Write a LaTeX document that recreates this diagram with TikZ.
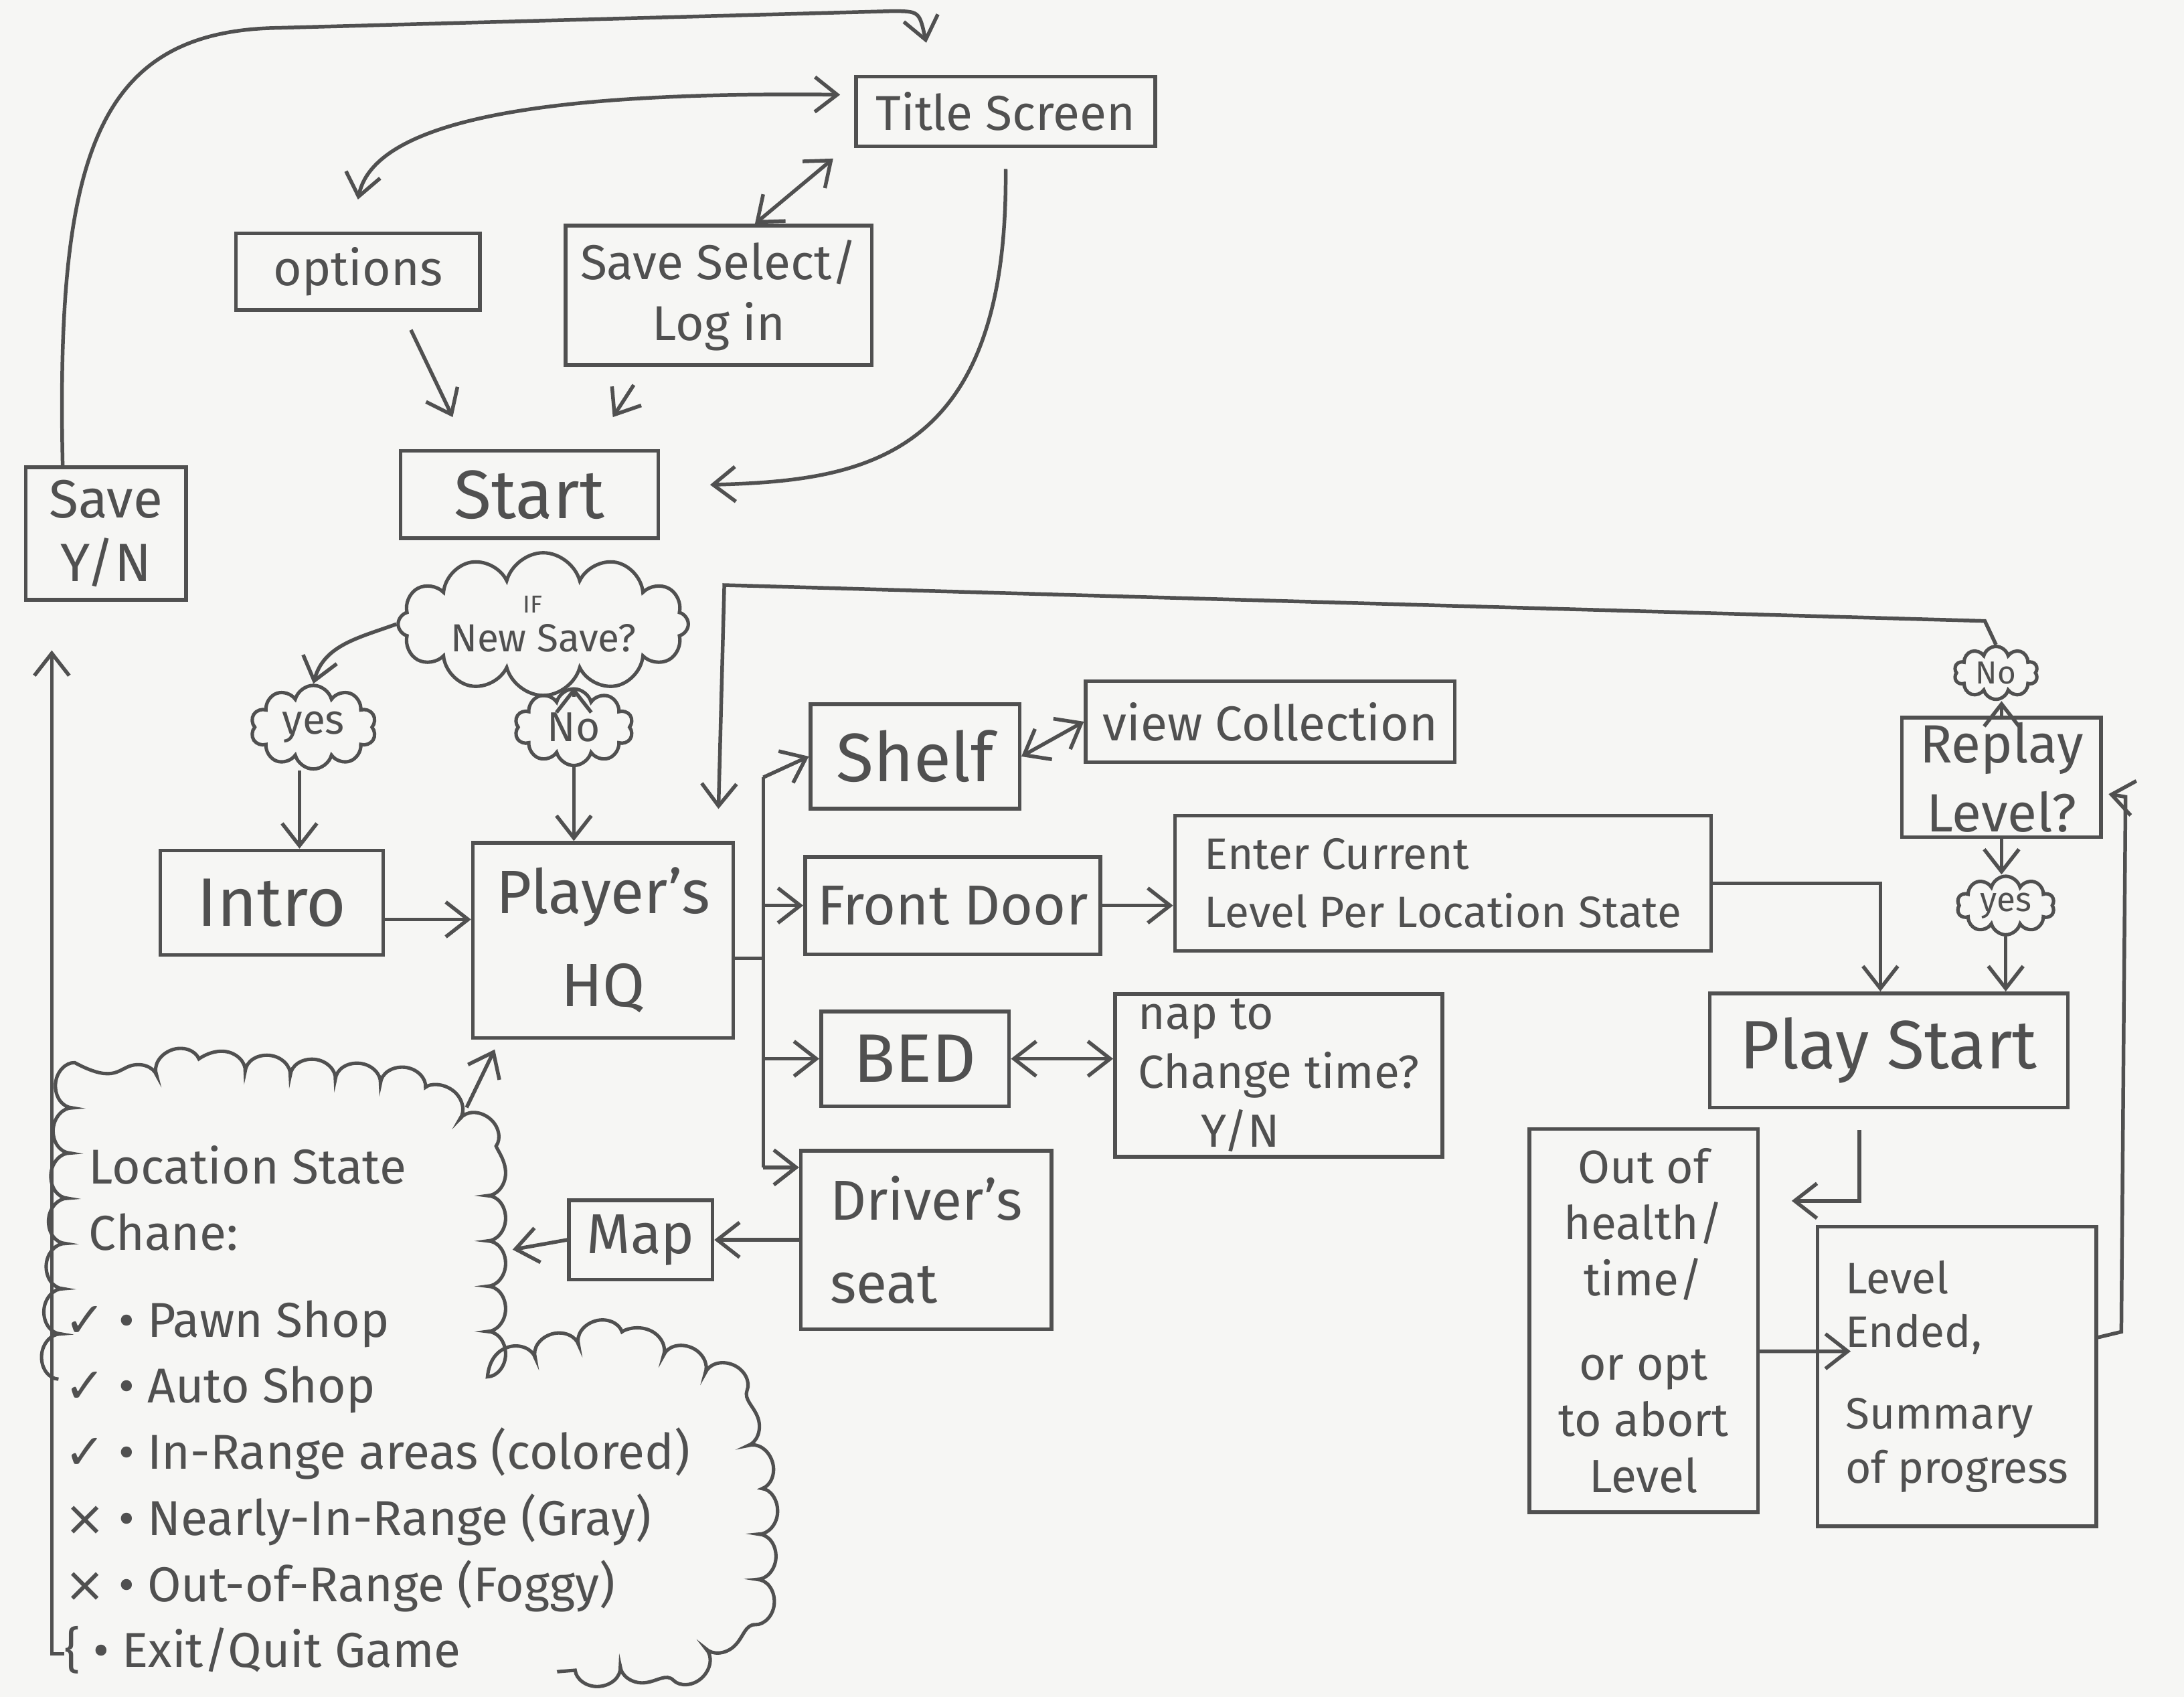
\documentclass[tikz,border=0pt]{standalone}
\usepackage{fontspec}
\setmainfont{Fira Sans}
\newfontfamily\symf{DejaVu Sans}
\usetikzlibrary{arrows.meta,shapes.symbols,decorations.pathmorphing}

\definecolor{paper}{RGB}{246,246,244}
\definecolor{pencil}{RGB}{80,80,80}

\tikzset{
  box/.style={draw=pencil, line width=1.5pt, text=pencil, align=center, inner sep=2pt,
    font=\fontsize{20}{25}\selectfont},
  bigbox/.style={box, font=\fontsize{28}{32}\selectfont},
  puff/.style={cloud, cloud puffs=10, cloud ignores aspect, draw=pencil, line width=1.4pt,
    text=pencil, align=center, inner sep=0pt, font=\fontsize{17}{20}\selectfont},
  link/.style={draw=pencil, line width=1.5pt},
  >={Straight Barb[length=3.2mm,width=5mm]}
}

\begin{document}
\begin{tikzpicture}[x=0.2mm,y=-0.2mm]
\fill[paper] (0,0) rectangle (1568,1218);
\useasboundingbox (0,0) rectangle (1568,1218);

\node[box, minimum width=43mm, minimum height=10mm] (title) at (722,80) {Title Screen};
\node[box, minimum width=35mm, minimum height=11mm] (options) at (257,195) {options};
\node[box, minimum width=44mm, minimum height=20mm] (savesel) at (516,212) {Save Select/\\Log in};
\node[bigbox, minimum width=37mm, minimum height=12.5mm] (start) at (380,355) {Start};
\node[box, font=\fontsize{22}{26}\selectfont, minimum width=23mm, minimum height=19mm] (saveyn) at (76,383) {Save\\Y/N};

\node[puff, cloud puffs=12, font=\fontsize{16}{19}\selectfont, inner xsep=1mm, inner ysep=0.5mm,
  minimum width=38mm, minimum height=12.6mm] (ifnew) at (390,448)
  {\hspace*{-3mm}{\fontsize{10}{10}\selectfont IF}\\[-3pt]New Save?};
\node[puff, minimum width=18mm, minimum height=12mm] (yes) at (225,522) {yes};
\node[puff, minimum width=17mm, minimum height=11mm] (no) at (412,522) {No};

\node[bigbox, minimum width=32mm, minimum height=15mm] (intro) at (195,648) {Intro};
\node[box, font=\fontsize{25}{38}\selectfont, minimum width=37.4mm, minimum height=28mm] (hq) at (433,675) {Player's\\HQ};

\node[bigbox, minimum width=30mm, minimum height=15mm] (shelf) at (657,543) {Shelf};
\node[box, minimum width=53mm, minimum height=11.6mm] (viewcol) at (912,518) {view Collection};
\node[box, font=\fontsize{23}{28}\selectfont, minimum width=42.4mm, minimum height=14mm] (frontdoor) at (684,650) {Front Door};
\node[box, align=left, font=\fontsize{18}{24}\selectfont, minimum width=77mm, minimum height=19.4mm] (enter) at (1036,634) {Enter Current\\Level Per Location State};
\node[bigbox, minimum width=27mm, minimum height=13.6mm] (bed) at (657,760) {BED};
\node[box, align=left, font=\fontsize{19}{24}\selectfont, minimum width=47mm, minimum height=22.6mm] (nap) at (918,772) {nap to\\Change time?\\\hspace*{9mm}Y/N};
\node[box, align=left, font=\fontsize{23}{34}\selectfont, minimum width=36mm, minimum height=25.6mm] (drivers) at (665,890) {Driver's\\seat};
\node[box, font=\fontsize{23}{28}\selectfont, minimum width=20.6mm, minimum height=11.4mm] (map) at (460,890) {Map};

\node[box, font=\fontsize{22}{28}\selectfont, minimum width=28.6mm, minimum height=17mm] (replay) at (1437,558) {Replay\\Level?};
\node[puff, font=\fontsize{13}{15}\selectfont, minimum width=12mm, minimum height=7.6mm] (norr) at (1433,483) {No};
\node[puff, font=\fontsize{14}{16}\selectfont, minimum width=14mm, minimum height=8.4mm] (yesr) at (1440,650) {yes};
\node[bigbox, minimum width=51.4mm, minimum height=16.4mm] (play) at (1356,754) {Play Start};
\node[box, font=\fontsize{19}{23}\selectfont, minimum width=32.8mm, minimum height=55mm] (outof) at (1180,948) {Out of\\health/\\time/\\[4mm]or opt\\to abort\\Level};
\node[box, align=left, font=\fontsize{18}{22}\selectfont, minimum width=40mm, minimum height=43mm] (ended) at (1405,988) {Level\\Ended,\\[4mm]Summary\\of progress};

\node[text=pencil, align=left, anchor=north west, inner sep=0pt, font=\fontsize{20}{27}\selectfont] (locstate) at (46,822)
  {\hspace*{3.5mm}Location State\\
   \hspace*{3.5mm}Chane:\\[3mm]
   {\symf ✓} • Pawn Shop\\
   {\symf ✓} • Auto Shop\\
   {\symf ✓} • In-Range areas (colored)\\
   {\symf ×} • Nearly-In-Range (Gray)\\
   {\symf ×} • Out-of-Range (Foggy)\\
   \{ • Exit/Quit Game};
\draw[pencil, line width=1.4pt, decorate, decoration={bumps, segment length=13mm, amplitude=2.6mm}]
  (42,990) -- (52,795) -- (130,765) -- (300,780) -- (350,818) -- (350,985)
  -- (440,958) -- (522,992) -- (546,1065) -- (543,1148) -- (498,1192) -- (400,1200);
\coordinate (cloudtop) at (335,795);
\coordinate (cloudin) at (368,897);
\coordinate (exitq) at ([yshift=3mm]locstate.south west);
\coordinate (split) at (548,688);
\coordinate (spt) at (548,558);
\coordinate (spb) at (548,838);

\draw[link,->] ([xshift=-6.2mm]saveyn.north) .. controls (40,110) and (70,22) .. (200,20) -- (640,8)
  .. controls (660,8) .. ([shift={(-11.4mm,4.6mm)}]title.north);
\draw[link,<->] ([shift={(-2mm,2.4mm)}]title.west) .. controls (420,66) and (270,80) .. ([yshift=4.6mm]options.north);
\draw[link,<->] ([shift={(-3mm,-1.5mm)}]title.south west) -- ([xshift=5.2mm]savesel.north);
\draw[link,->] ([yshift=-3mm]title.south) .. controls (724,330) and (620,345) .. ([shift={(7.2mm,1.4mm)}]start.east);
\draw[link,->] ([shift={(7.6mm,-2.6mm)}]options.south) -- ([shift={(-11mm,4.6mm)}]start.north);
\draw[link,->] ([shift={(-12.2mm,-2.6mm)}]savesel.south) -- ([shift={(12mm,4.6mm)}]start.north);

\draw[link,->] (ifnew.west) to[out=200,in=75] (yes.north);
\draw[link,->] (ifnew.south -| no.north) -- (no.north);
\draw[link,->] ([xshift=-2mm]yes.south) -- ([xshift=-2mm]yes.south |- intro.north);
\draw[link,->] (no.south) -- (no.south |- hq.north);
\draw[link,->] ([yshift=-2.4mm]intro.east) -- ([yshift=-2.4mm]hq.west |- intro.east);

\draw[link] (hq.east |- split) -- (split);
\draw[link] (spt) -- (spb);
\draw[link,->] (spt) -- (shelf.west);
\draw[link,->] (split |- frontdoor.west) -- (frontdoor.west);
\draw[link,->] (split |- bed.west) -- (bed.west);
\draw[link,->] (spb) -- (drivers.west |- spb);

\draw[link,<->] (shelf.east) -- (viewcol.west);
\draw[link,->] (frontdoor.east) -- (enter.west |- frontdoor.east);
\draw[link,<->] (bed.east) -- (nap.west |- bed.east);
\draw[link,->] (drivers.west) -- (map.east);
\draw[link,->] (map.west) -- (cloudin);
\draw[link,->] (cloudtop) -- ([shift={(3.4mm,-1.4mm)}]hq.south west);
\draw[link,->] (exitq) -| ([shift={(4mm,-7mm)}]saveyn.south west);

\draw[link,->] (enter.east) -| ([xshift=-1.2mm]play.north);
\draw[link,->] (replay.north) -- (replay.north |- norr.south);
\draw[link,->] (norr.north) -- ++(-1.6mm,3.4mm) -- (520,420) -- ([shift={(-2.4mm,4.6mm)}]hq.north east);
\draw[link,->] (replay.south) -- (replay.south |- yesr.north);
\draw[link,->] (yesr.south) -- (yesr.south |- play.north);
\draw[link,->] ([shift={(-4.2mm,-3mm)}]play.south) |- ([shift={(4.6mm,17.2mm)}]outof.east);
\draw[link,->] ([yshift=-4.4mm]outof.east) -- ([shift={(5mm,3.6mm)}]ended.west);
\draw[link,->] ([yshift=5.6mm]ended.east) -- (1523,956) -- (1526,572) -- ([shift={(0.8mm,-2.4mm)}]replay.east);
\end{tikzpicture}
\end{document}
